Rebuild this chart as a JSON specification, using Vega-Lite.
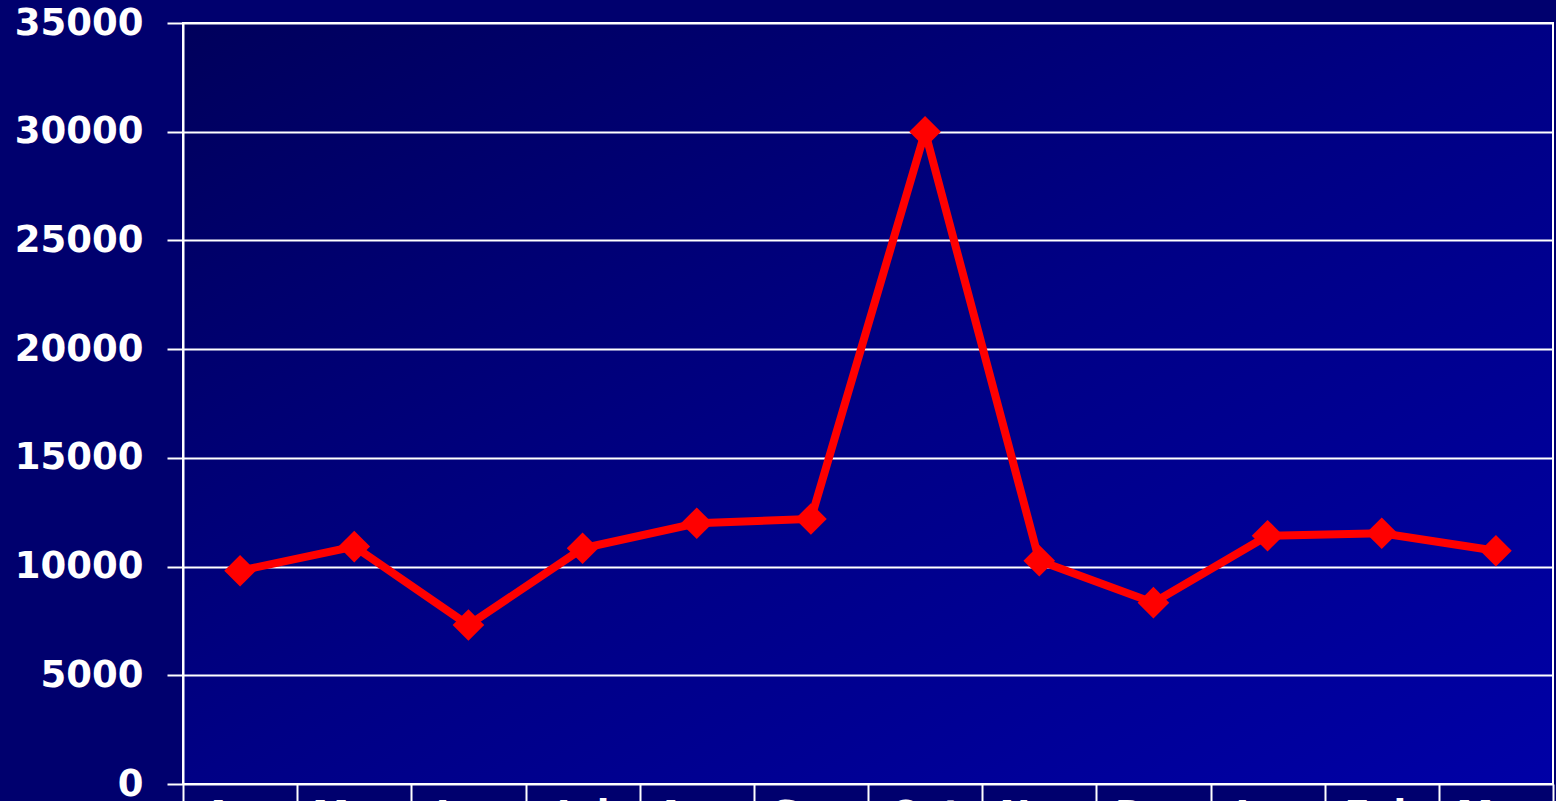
{
  "$schema": "https://vega.github.io/schema/vega-lite/v6.json",
  "autosize": "none",
  "width": 1370,
  "height": 761,
  "padding": {"left": 183, "top": 23, "right": 3, "bottom": 17},
  "background": "#00006e",
  "config": {
    "font": "DejaVu Sans",
    "view": {
      "stroke": "#ffffff",
      "strokeWidth": 2,
      "fill": {
        "gradient": "linear",
        "x1": 0, "y1": 0, "x2": 1, "y2": 1,
        "stops": [
          {"offset": 0, "color": "#00005c"},
          {"offset": 0.5, "color": "#000085"},
          {"offset": 1, "color": "#0000a6"}
        ]
      }
    }
  },
  "data": {
    "values": [
      {"month": "Apr", "value": 9810},
      {"month": "May", "value": 10920},
      {"month": "Jun", "value": 7310},
      {"month": "Jul", "value": 10840},
      {"month": "Aug", "value": 11990},
      {"month": "Sep", "value": 12190},
      {"month": "Oct", "value": 30000},
      {"month": "Nov", "value": 10270},
      {"month": "Dec", "value": 8340},
      {"month": "Jan", "value": 11420},
      {"month": "Feb", "value": 11530},
      {"month": "Mar", "value": 10730}
    ]
  },
  "mark": {
    "type": "line",
    "color": "#ff0000",
    "strokeWidth": 8,
    "point": {"shape": "diamond", "size": 1000, "filled": true, "color": "#ff0000", "opacity": 1}
  },
  "encoding": {
    "x": {
      "field": "month",
      "type": "nominal",
      "sort": null,
      "bandPosition": 0.5,
      "scale": {"type": "band", "paddingInner": 0, "paddingOuter": 0},
      "axis": {
        "title": null,
        "domain": false,
        "grid": false,
        "tickBand": "extent",
        "tickSize": 22,
        "tickColor": "#ffffff",
        "tickWidth": 2,
        "labelPadding": -9,
        "labelAngle": 0,
        "labelBaseline": "top",
        "labelColor": "#ffffff",
        "labelFont": "DejaVu Sans",
        "labelFontSize": 37,
        "labelFontWeight": "bold"
      }
    },
    "y": {
      "field": "value",
      "type": "quantitative",
      "scale": {"domain": [0, 35000], "nice": false, "zero": true},
      "axis": {
        "title": null,
        "values": [0, 5000, 10000, 15000, 20000, 25000, 30000, 35000],
        "format": "d",
        "grid": true,
        "gridColor": "#ffffff",
        "gridWidth": 2,
        "gridOpacity": 1,
        "domainColor": "#ffffff",
        "domainWidth": 2,
        "tickSize": 16,
        "tickColor": "#ffffff",
        "tickWidth": 2,
        "labelPadding": 24,
        "labelFlush": false,
        "labelOverlap": false,
        "labelColor": "#ffffff",
        "labelFont": "DejaVu Sans",
        "labelFontSize": 37,
        "labelFontWeight": "bold"
      }
    }
  }
}
